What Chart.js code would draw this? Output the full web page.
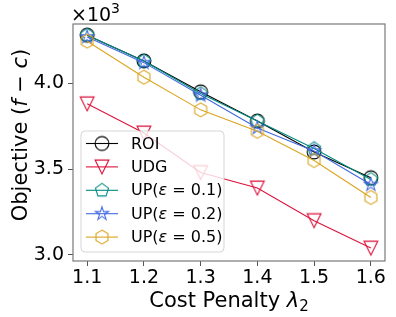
<!DOCTYPE html>
<html>
<head>
<meta charset="utf-8">
<script src="https://cdn.jsdelivr.net/npm/chart.js@4"></script>
<style>
  html, body { margin: 0; padding: 0; background: #fff; }
  #c { display: block; }
</style>
</head>
<body>
<canvas id="c" width="396" height="317"></canvas>
<script>
// ---- data (values in units of 10^3) ----
const lambdas = [1.1, 1.2, 1.3, 1.4, 1.5, 1.6];
const roi   = [4.28, 4.13, 3.95, 3.78, 3.60, 3.45];
const udg   = [3.88, 3.71, 3.48, 3.39, 3.20, 3.04];
const up01  = [4.28, 4.13, 3.94, 3.78, 3.62, 3.44];
const up02  = [4.27, 4.12, 3.93, 3.74, 3.605, 3.41];
const up05  = [4.245, 4.035, 3.845, 3.72, 3.55, 3.335];
const xTicks = [1.1, 1.2, 1.3, 1.4, 1.5, 1.6];
const yTicks = [3.0, 3.5, 4.0];
const seriesNames = ['ROI', 'UDG', 'UP(ε = 0.1)', 'UP(ε = 0.2)', 'UP(ε = 0.5)'];
const legendParts = [
  [['ROI', false]],
  [['UDG', false]],
  [['UP(', false], ['ε', true], [' = 0.1)', false]],
  [['UP(', false], ['ε', true], [' = 0.2)', false]],
  [['UP(', false], ['ε', true], [' = 0.5)', false]]
];

const FONT = "'DejaVu Sans', sans-serif";
const colors = ['#000000', '#DC143C', '#008B80', '#4169E1', '#DAA520'];
const markers = ['circle', 'tri', 'pent', 'star', 'hex'];

function makeMarker(kind, color) {
  const s = 18, c = s / 2, r = 6.9;
  const cv = document.createElement('canvas');
  cv.width = s; cv.height = s;
  const g = cv.getContext('2d');
  g.strokeStyle = color; g.lineWidth = 1.1; g.lineJoin = 'miter';
  g.beginPath();
  if (kind === 'circle') {
    g.arc(c, c, r, 0, Math.PI * 2);
  } else if (kind === 'tri') {
    g.moveTo(c, c + r); g.lineTo(c - r, c - r); g.lineTo(c + r, c - r); g.closePath();
  } else if (kind === 'pent' || kind === 'hex') {
    const n = kind === 'pent' ? 5 : 6;
    for (let i = 0; i < n; i++) {
      const a = -Math.PI / 2 + i * 2 * Math.PI / n;
      const px = c + r * Math.cos(a), py = c + r * Math.sin(a);
      i ? g.lineTo(px, py) : g.moveTo(px, py);
    }
    g.closePath();
  } else if (kind === 'star') {
    const ri = r * 0.381966;
    for (let i = 0; i < 10; i++) {
      const a = -Math.PI / 2 + i * Math.PI / 5;
      const rr = i % 2 ? ri : r;
      const px = c + rr * Math.cos(a), py = c + rr * Math.sin(a);
      i ? g.lineTo(px, py) : g.moveTo(px, py);
    }
    g.closePath();
  }
  g.stroke();
  return cv;
}

const seriesData = [roi, udg, up01, up02, up05];
const datasets = seriesData.map((vals, i) => ({
  label: seriesNames[i],
  data: lambdas.map((x, j) => ({ x: x, y: vals[j] })),
  borderColor: colors[i],
  borderWidth: 1.1,
  pointStyle: makeMarker(markers[i], colors[i]),
  pointRadius: 7,
  pointHoverRadius: 7,
  fill: false,
  tension: 0,
  order: 4 - i
}));

function drawRich(ctx, parts, x, y, align) {
  let total = 0;
  parts.forEach(p => { ctx.font = p[1]; total += ctx.measureText(p[0]).width; });
  let cx = align === 'center' ? x - total / 2 : (align === 'right' ? x - total : x);
  parts.forEach(p => {
    ctx.font = p[1];
    ctx.fillText(p[0], cx, y + (p[2] || 0));
    cx += ctx.measureText(p[0]).width;
  });
}

const decorPlugin = {
  id: 'decor',
  afterDatasetsDraw(chart) {
    const ctx = chart.ctx, a = chart.chartArea;
    ctx.save();
    ctx.strokeStyle = '#7a7a7a'; ctx.lineWidth = 1.2;
    ctx.strokeRect(a.left, a.top, a.right - a.left, a.bottom - a.top);

    // legend
    const lx = 81, ly = 131, lw = 143, lh = 121;
    ctx.beginPath();
    if (ctx.roundRect) ctx.roundRect(lx, ly, lw, lh, 4); else ctx.rect(lx, ly, lw, lh);
    ctx.fillStyle = 'rgba(255,255,255,0.8)';
    ctx.fill();
    ctx.strokeStyle = 'rgba(204,204,204,0.8)'; ctx.lineWidth = 1;
    ctx.stroke();
    const rowH = 23.4;
    chart.data.datasets.forEach((ds, i) => {
      const yy = ly + 12.5 + i * rowH;
      ctx.strokeStyle = ds.borderColor; ctx.lineWidth = 1.1;
      ctx.beginPath(); ctx.moveTo(86, yy); ctx.lineTo(118, yy); ctx.stroke();
      const m = ds.pointStyle;
      ctx.drawImage(m, 102 - m.width / 2, yy - m.height / 2);
      ctx.fillStyle = '#000'; ctx.textBaseline = 'middle';
      const parts = legendParts[i].map(p => [p[0], (p[1] ? 'italic ' : '') + '16px ' + FONT, 0]);
      drawRich(ctx, parts, 131, yy + 1, 'left');
    });

    // offset text x10^3
    ctx.fillStyle = '#000'; ctx.textBaseline = 'alphabetic';
    drawRich(ctx, [['×10', '19px ' + FONT, 0], ['3', '14px ' + FONT, -8]], 71, 21, 'left');

    // x title
    drawRich(ctx, [['Cost Penalty ', '21px ' + FONT, 0], ['λ', 'italic 21px ' + FONT, 0], ['2', '15px ' + FONT, 4]],
      (a.left + a.right) / 2, 307, 'center');

    // y title
    ctx.translate(27, 135);
    ctx.rotate(-Math.PI / 2);
    drawRich(ctx, [['Objective (', '21px ' + FONT, 0], ['f', 'italic 21px ' + FONT, 0], [' − ', '21px ' + FONT, 0],
      ['c', 'italic 21px ' + FONT, 0], [')', '21px ' + FONT, 0]], 0, 0, 'center');
    ctx.restore();
  }
};

new Chart(document.getElementById('c'), {
  type: 'line',
  data: { datasets: datasets },
  plugins: [decorPlugin],
  options: {
    responsive: false,
    animation: false,
    devicePixelRatio: 1,
    layout: { padding: { top: 24, right: 11, left: 0, bottom: 0 } },
    plugins: { legend: { display: false }, tooltip: { enabled: false }, title: { display: false } },
    scales: {
      x: {
        type: 'linear', min: 1.075, max: 1.625,
        afterBuildTicks: s => { s.ticks = xTicks.map(v => ({ value: v })); },
        afterFit: s => { s.height = 56; },
        ticks: { callback: v => v.toFixed(1), font: { family: FONT, size: 19 }, color: '#000', padding: 1, maxRotation: 0 },
        grid: { drawOnChartArea: false, drawTicks: true, tickLength: 5, color: '#555', tickWidth: 1 },
        border: { display: false }
      },
      y: {
        type: 'linear', min: 2.965, max: 4.345,
        afterBuildTicks: s => { s.ticks = yTicks.map(v => ({ value: v })); },
        afterFit: s => { s.width = 73; },
        ticks: { callback: v => v.toFixed(1), font: { family: FONT, size: 19 }, color: '#000', padding: 4 },
        grid: { drawOnChartArea: false, drawTicks: true, tickLength: 5, color: '#555', tickWidth: 1 },
        border: { display: false }
      }
    }
  }
});
</script>
</body>
</html>
